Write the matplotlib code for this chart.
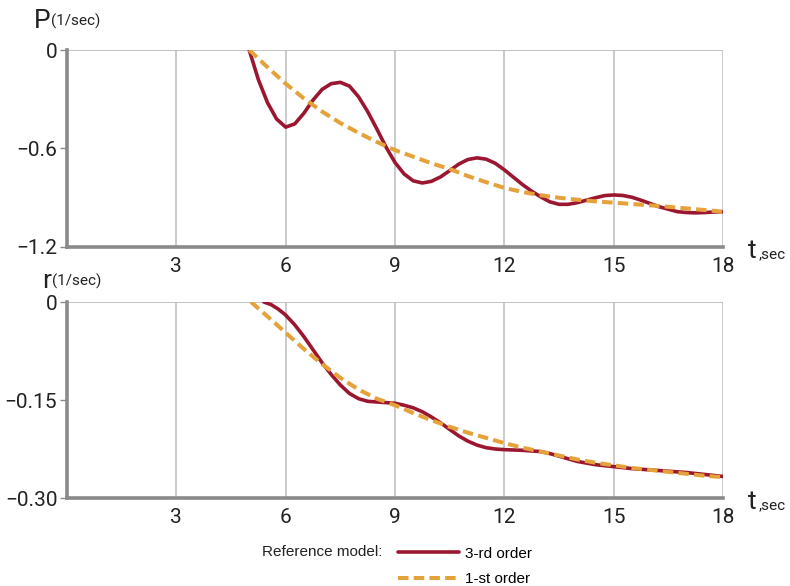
import matplotlib.pyplot as plt
from matplotlib.lines import Line2D

plt.rcParams['font.family'] = ['Liberation Sans Narrow', 'Roboto', 'DejaVu Sans']

# pitch rate P, 3-rd order reference model
t_p3 = [5.0, 5.25, 5.5, 5.75, 6.0, 6.25, 6.5, 6.75, 7.0, 7.25, 7.5, 7.75, 8.0,
        8.25, 8.5, 8.75, 9.0, 9.25, 9.5, 9.75, 10.0, 10.25, 10.5, 10.75, 11.0,
        11.25, 11.5, 11.75, 12.0, 12.25, 12.5, 12.75, 13.0, 13.25, 13.5, 13.75,
        14.0, 14.25, 14.5, 14.75, 15.0, 15.25, 15.5, 15.75, 16.0, 16.25, 16.5,
        16.75, 17.0, 17.25, 17.5, 17.75, 18.0]
p3 = [0.0, -0.18, -0.32, -0.42, -0.47, -0.45, -0.385, -0.305, -0.24, -0.205,
      -0.197, -0.22, -0.285, -0.375, -0.48, -0.59, -0.685, -0.755, -0.797, -0.81,
      -0.80, -0.773, -0.735, -0.695, -0.667, -0.657, -0.665, -0.69, -0.73, -0.775,
      -0.82, -0.86, -0.895, -0.925, -0.94, -0.94, -0.93, -0.915, -0.90, -0.887,
      -0.883, -0.886, -0.897, -0.915, -0.935, -0.955, -0.97, -0.985, -0.99,
      -0.992, -0.99, -0.987, -0.985]

# pitch rate P, 1-st order reference model
t_p1 = [5.0, 5.5, 6.0, 6.5, 7.0, 7.5, 8.0, 8.5, 9.0, 9.5, 10.0, 10.5, 11.0,
        11.5, 12.0, 12.5, 13.0, 13.5, 14.0, 14.5, 15.0, 15.5, 16.0, 16.5, 17.0,
        17.5, 18.0]
p1 = [0.0, -0.105, -0.205, -0.295, -0.375, -0.445, -0.505, -0.56, -0.61, -0.65,
      -0.69, -0.725, -0.768, -0.805, -0.84, -0.865, -0.885, -0.90, -0.912,
      -0.922, -0.93, -0.938, -0.946, -0.955, -0.965, -0.975, -0.985]

# yaw rate r, 3-rd order reference model
t_r3 = [5.4, 5.6, 5.8, 6.0, 6.25, 6.5, 6.75, 7.0, 7.25, 7.5, 7.75, 8.0, 8.25,
        8.5, 8.75, 9.0, 9.25, 9.5, 9.75, 10.0, 10.25, 10.5, 10.75, 11.0, 11.25,
        11.5, 11.75, 12.0, 12.5, 13.0, 13.25, 13.5, 13.75, 14.0, 14.5, 15.0,
        15.5, 16.0, 16.5, 17.0, 17.5, 18.0]
r3 = [0.0, -0.004, -0.011, -0.020, -0.035, -0.053, -0.073, -0.093, -0.111,
      -0.127, -0.140, -0.148, -0.152, -0.153, -0.154, -0.155, -0.158, -0.162,
      -0.168, -0.176, -0.185, -0.195, -0.205, -0.213, -0.219, -0.223, -0.225,
      -0.226, -0.227, -0.229, -0.232, -0.236, -0.240, -0.244, -0.249, -0.252,
      -0.255, -0.257, -0.259, -0.261, -0.264, -0.267]

# yaw rate r, 1-st order reference model
t_r1 = [5.05, 5.5, 6.0, 6.5, 7.0, 7.5, 8.0, 8.5, 9.0, 9.5, 10.0, 10.5, 11.0,
        11.5, 12.0, 12.5, 13.0, 13.5, 14.0, 14.5, 15.0, 15.5, 16.0, 16.5, 17.0,
        17.5, 18.0]
r1 = [0.0, -0.022, -0.047, -0.072, -0.095, -0.116, -0.134, -0.148, -0.158,
      -0.170, -0.181, -0.191, -0.200, -0.208, -0.216, -0.223, -0.229, -0.235,
      -0.241, -0.246, -0.250, -0.254, -0.257, -0.260, -0.263, -0.266, -0.268]

x_ticks = [3, 6, 9, 12, 15, 18]
p_ticks = [0, -0.6, -1.2]
p_labels = ['0', '\u22120.6', '\u22121.2']
r_ticks = [0, -0.15, -0.30]
r_labels = ['0', '\u22120.15', '\u22120.30']

RED = '#9b1730'
ORANGE = '#e5a13a'
SPINE = '#8a8a8a'
GRID = '#bdbdbd'

W, H = 790, 586
fig = plt.figure(figsize=(7.9, 5.86), dpi=100)
ax1 = fig.add_axes([67 / W, 1 - 247 / H, 656 / W, 197 / H])
ax2 = fig.add_axes([67 / W, 1 - 498 / H, 656 / W, 196 / H])


def style(ax, yt, ylab, ylim):
    ax.set_xlim(0, 18)
    ax.set_ylim(*ylim)
    for s in ['top', 'right']:
        ax.spines[s].set_visible(False)
    for s in ['left', 'bottom']:
        ax.spines[s].set_color(SPINE)
        ax.spines[s].set_linewidth(2.6)
    for xv in x_ticks:
        ax.axvline(xv, color=GRID, lw=1.1, zorder=0)
    ax.axhline(0, color=GRID, lw=1.3, zorder=0)
    ax.set_xticks(x_ticks)
    ax.set_yticks(yt)
    ax.set_yticklabels(ylab)
    ax.tick_params(axis='x', length=0, pad=7, labelsize=15, labelcolor='#222222')
    ax.tick_params(axis='y', length=5, width=1, color=SPINE, pad=2,
                   labelsize=15, labelcolor='#222222')


style(ax1, p_ticks, p_labels, (-1.2, 0))
style(ax2, r_ticks, r_labels, (-0.30, 0))

dash = dict(color=ORANGE, lw=2.9, ls=(0, (2.6, 1.3)), solid_capstyle='butt')
solid = dict(color=RED, lw=2.6, solid_capstyle='round', solid_joinstyle='round')

ax1.plot(t_p1, p1, zorder=3, **dash)
h3, = ax1.plot(t_p3, p3, zorder=2, **solid)
ax2.plot(t_r1, r1, zorder=3, **dash)
ax2.plot(t_r3, r3, zorder=2, **solid)
h1 = Line2D([], [], **dash)

# axis captions
fig.text(34 / W, 1 - 28 / H, 'P', fontsize=19, color='#222222')
fig.text(51 / W, 1 - 26 / H, '(1/sec)', fontsize=11, color='#222222')
fig.text(42 / W, 1 - 288 / H, 'r', fontsize=19, color='#222222')
fig.text(52 / W, 1 - 286 / H, '(1/sec)', fontsize=11, color='#222222')
for yb in (258, 509):
    fig.text(748 / W, 1 - yb / H, 't', fontsize=19, color='#222222')
    fig.text(759 / W, 1 - yb / H, ',sec', fontsize=11, color='#222222')

fig.text(262 / W, 1 - 556 / H, 'Reference model:', fontsize=11,
         family='Liberation Sans', color='#222222')
fig.legend([h3, h1], ['3-rd order', '1-st order'], loc='upper left',
           bbox_to_anchor=(384 / W, 1 - 533 / H), frameon=False,
           handlelength=4.0, handletextpad=0.4, labelspacing=0.75,
           prop={'family': 'Liberation Sans', 'size': 11})

fig.savefig('out.png', dpi=100)
